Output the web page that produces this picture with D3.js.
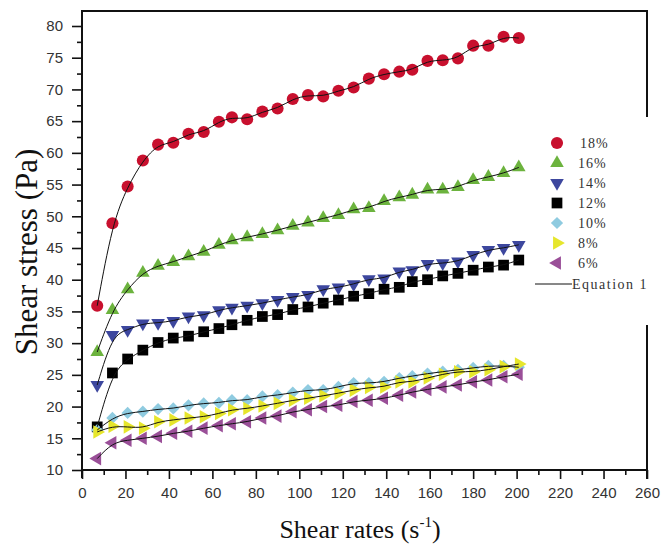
<!DOCTYPE html>
<html><head><meta charset="utf-8">
<script src="https://cdn.jsdelivr.net/npm/d3@7"></script>
<style>body{margin:0;background:#fff}svg{display:block}</style>
</head><body>
<svg id="c" width="661" height="548"></svg>
<script>
// ---- data ----
const rates = [7,14,21,28,35,42,49,56,63,69,76,83,90,97,104,111,118,125,132,139,146,152,159,166,173,180,187,194,201];
const s18 = [35.9,48.9,54.7,58.8,61.3,61.6,63.0,63.3,64.9,65.6,65.3,66.5,67.0,68.5,69.1,68.9,69.8,70.3,71.7,72.4,72.8,73.1,74.5,74.6,74.9,76.9,76.9,78.3,78.1];
const s16 = [28.6,35.2,38.5,41.1,42.2,42.8,43.7,44.4,45.5,46.2,46.7,47.2,47.8,48.5,49.0,49.7,50.2,51.1,51.3,52.4,53.0,53.4,54.2,54.2,54.6,55.7,56.2,56.8,57.7];
const s14 = [23.4,31.3,32.1,33.1,33.2,33.5,34.2,34.4,35.2,35.6,35.9,36.3,36.8,37.3,37.6,38.5,38.8,39.3,40.1,40.2,41.3,41.5,42.5,42.6,42.9,43.9,44.7,45.0,45.5];
const s12 = [16.8,25.3,27.5,28.9,30.1,30.8,31.1,31.8,32.3,32.9,33.6,34.2,34.5,35.3,35.7,36.3,36.8,37.4,37.8,38.5,38.8,39.7,40.0,40.6,41.0,41.5,42.0,42.3,43.1];
const s10 = [16.3,18.2,19.0,19.2,19.6,19.7,20.2,20.5,20.6,21.0,21.0,21.6,21.8,22.2,22.6,22.6,23.1,23.7,23.7,23.9,24.5,24.8,25.2,25.5,25.8,26.1,26.4,26.4,26.2];
const s8  = [16.0,16.9,16.8,16.6,17.6,17.9,18.2,18.4,18.9,19.5,19.7,20.1,20.5,21.0,21.3,21.7,22.1,22.6,23.0,23.1,23.9,23.9,24.5,25.1,25.5,25.5,25.8,26.3,26.7];
const s6  = [11.8,14.3,14.7,15.0,15.3,15.8,16.1,16.6,17.0,17.3,17.6,18.2,18.5,19.2,19.5,20.0,20.2,20.8,21.0,21.3,21.8,22.3,22.7,23.1,23.4,23.9,24.2,24.7,25.1];
const seriesNames = ["18%","16%","14%","12%","10%","8%","6%"];
const xTicks = [0,20,40,60,80,100,120,140,160,180,200,220,240,260];
const yTicks = [10,15,20,25,30,35,40,45,50,55,60,65,70,75,80];
const fitLabel = "Equation 1";

// ---- styles ----
const seriesVals = [s18,s16,s14,s12,s10,s8,s6];
const colors = ["#c8102e","#6cb33e","#3d479e","#000000","#8fcbe0","#e6e62c","#9a4f98"];
const shapes = [
  {t:d3.symbolCircle, s:115, r:0},
  {t:d3.symbolTriangle, s:80, r:0},
  {t:d3.symbolTriangle, s:80, r:180},
  {t:d3.symbolSquare, s:115, r:0},
  {t:d3.symbolSquare, s:75, r:45},
  {t:d3.symbolTriangle, s:80, r:90},
  {t:d3.symbolTriangle, s:80, r:-90}
];
const tickFont = "'Liberation Sans Narrow','Arial Narrow','Liberation Sans',Arial,sans-serif";
const serif = "'Liberation Serif','Times New Roman',serif";

const svg = d3.select("#c");
const x = d3.scaleLinear().domain([0,260]).range([82,647]);
const y = d3.scaleLinear().domain([10,80]).range([470,26]);

// axes
const gx = svg.append("g").attr("transform","translate(0,470)")
  .call(d3.axisBottom(x).tickValues(xTicks).tickSize(9).tickPadding(8).tickFormat(d3.format("d")));
const gxm = svg.append("g").attr("transform","translate(0,470)")
  .call(d3.axisBottom(x).tickValues(d3.range(10,260,20)).tickSize(5).tickFormat(""));
const gy = svg.append("g").attr("transform","translate(82,0)")
  .call(d3.axisLeft(y).tickValues(yTicks).tickSize(10).tickPadding(9));
const gym = svg.append("g").attr("transform","translate(82,0)")
  .call(d3.axisLeft(y).tickValues(d3.range(12.5,80,5)).tickSize(5).tickFormat(""));
[gx,gxm,gy,gym].forEach(g=>{
  g.select(".domain").remove();
  g.selectAll(".tick line").attr("stroke","#111").attr("stroke-width",1.6);
  g.selectAll("text").attr("font-family",tickFont).attr("font-size",15).attr("fill","#333");
});

// frame lines
const frame = [[82,11,82,478],[81,470,648,470],[81,11,648,11],[647,10,647,117],[647,325,647,479]];
svg.selectAll("line.frame").data(frame).enter().append("line").attr("class","frame")
  .attr("x1",d=>d[0]).attr("y1",d=>d[1]).attr("x2",d=>d[2]).attr("y2",d=>d[3])
  .attr("stroke","#111").attr("stroke-width",2);

// markers
seriesVals.forEach((vals,i)=>{
  const sym = d3.symbol().type(shapes[i].t).size(shapes[i].s);
  svg.append("g").selectAll("path").data(vals).enter().append("path")
    .attr("d",sym)
    .attr("transform",(v,j)=>`translate(${x(rates[j])},${y(v)}) rotate(${shapes[i].r})`)
    .attr("fill",colors[i]);
});

// fit lines (Equation 1)
const line = d3.line().x((v,j)=>x(rates[j])).y(v=>y(v)).curve(d3.curveBasis);
seriesVals.forEach(vals=>{
  svg.append("path").attr("d",line(vals)).attr("fill","none")
    .attr("stroke","#111").attr("stroke-width",1);
});

// legend
const lg = svg.append("g");
seriesNames.forEach((n,i)=>{
  const yy = 143 + i*20;
  lg.append("path").attr("d",d3.symbol().type(shapes[i].t).size(shapes[i].s)())
    .attr("transform",`translate(557,${yy}) rotate(${shapes[i].r})`).attr("fill",colors[i]);
  lg.append("text").attr("x", i===0?580:578).attr("y",yy+5).text(n)
    .attr("font-family",serif).attr("font-size",14).attr("letter-spacing",1).attr("fill","#333");
});
lg.append("line").attr("x1",535).attr("x2",572).attr("y1",284).attr("y2",284).attr("stroke","#111").attr("stroke-width",1);
lg.append("text").attr("x",572).attr("y",289).text(fitLabel)
  .attr("font-family",serif).attr("font-size",14).attr("letter-spacing",1.5).attr("fill","#333");

// axis titles
const xt = svg.append("text").attr("x",360).attr("y",538).attr("text-anchor","middle")
  .attr("font-family",serif).attr("font-size",26).attr("fill","#111");
xt.append("tspan").text("Shear rates (s");
xt.append("tspan").attr("font-size",15).attr("dy",-11).text("-1");
xt.append("tspan").attr("dy",11).text(")");
svg.append("text").attr("transform","translate(37,252) rotate(-90)").attr("text-anchor","middle")
  .attr("font-family",serif).attr("font-size",31).attr("fill","#111").text("Shear stress (Pa)");
</script>
</body></html>
